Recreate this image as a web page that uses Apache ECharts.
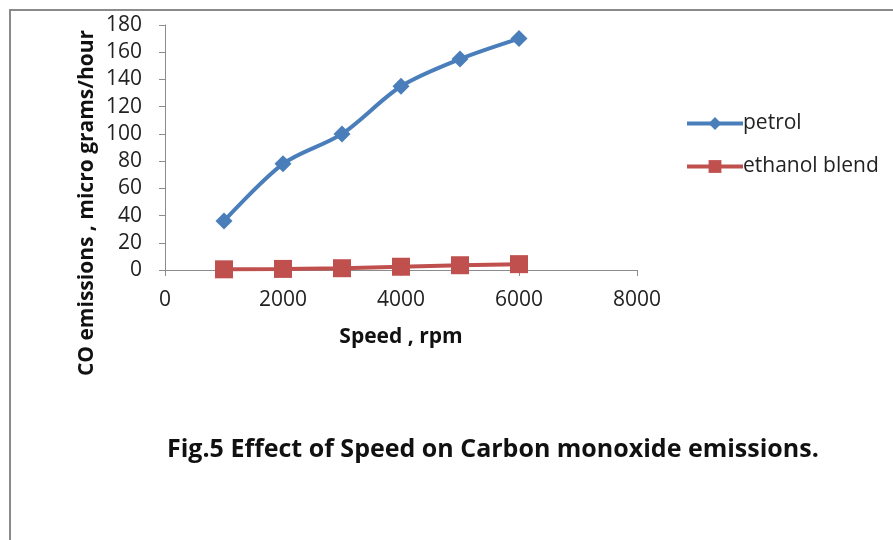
<!DOCTYPE html>
<html>
<head>
<meta charset="utf-8">
<script src="https://cdn.jsdelivr.net/npm/echarts@6/dist/echarts.min.js"></script>
<style>
  html, body { margin: 0; padding: 0; background: #fff; }
  #chart { width: 893px; height: 540px; }
</style>
</head>
<body>
<div id="chart"></div>
<script>
// data
const speed = [1000, 2000, 3000, 4000, 5000, 6000];
const petrol = [36, 78, 100, 135, 155, 170];
const ethanolBlend = [0.5, 0.8, 1.3, 2.4, 3.5, 4.3];
const seriesNames = ["petrol", "ethanol blend"];
const yTitle = "CO emissions , micro grams/hour";

const font = "'Open Sans', sans-serif";
const axisGrey = "#8c8c8c";

const myChart = echarts.init(document.getElementById("chart"));

const option = {
  backgroundColor: "#fff",
  animation: false,
  title: {
    text: "Fig.5 Effect of Speed on Carbon monoxide emissions.",
    left: 162,
    top: 432,
    textStyle: { fontFamily: font, fontSize: 25, fontWeight: "bold", color: "#111" },
  },
  graphic: [
    {
      type: "rect",
      shape: { x: 10, y: 10, width: 1200, height: 1200 },
      style: { fill: "none", stroke: "#8a8a8a", lineWidth: 2 },
      silent: true,
    },
    {
      // y axis title sits lower than the axis middle in the original
      type: "text",
      x: 87,
      y: 203,
      rotation: Math.PI / 2,
      silent: true,
      style: {
        text: yTitle,
        fontFamily: font,
        fontSize: 21,
        fontWeight: "bold",
        fill: "#111",
        align: "center",
        verticalAlign: "middle",
      },
    },
  ],
  legend: {
    orient: "vertical",
    left: 680,
    top: 108,
    itemWidth: 56,
    itemHeight: 16,
    itemGap: 22,
    data: seriesNames,
    lineStyle: { width: 4 },
    textStyle: { fontFamily: font, fontSize: 21, color: "#222", padding: [0, 0, 0, -5] },
  },
  grid: { left: 165, right: 256, top: 25, bottom: 270, outerBoundsMode: "none", containLabel: false },
  xAxis: {
    type: "value",
    min: 0,
    max: 8000,
    interval: 2000,
    name: "Speed , rpm",
    nameLocation: "middle",
    nameGap: 57,
    nameTextStyle: { fontFamily: font, fontSize: 21, fontWeight: "bold", color: "#111" },
    axisLine: { show: true, lineStyle: { color: axisGrey, width: 1 } },
    axisTick: { show: true, length: 6, lineStyle: { color: axisGrey } },
    axisLabel: {
      fontFamily: font, fontSize: 21, color: "#222", margin: 20,
      formatter: (v) => String(v),
    },
    splitLine: { show: false },
  },
  yAxis: {
    type: "value",
    min: 0,
    max: 180,
    interval: 20,
    axisLine: { show: true, lineStyle: { color: axisGrey, width: 1 } },
    axisTick: { show: true, length: 6, lineStyle: { color: axisGrey } },
    axisLabel: { fontFamily: font, fontSize: 21, color: "#222", margin: 23 },
    splitLine: { show: false },
  },
  series: [
    {
      name: seriesNames[0],
      type: "line",
      smooth: 0.3,
      data: speed.map((s, i) => [s, petrol[i]]),
      symbol: "diamond",
      symbolSize: 17,
      lineStyle: { color: "#4a7ebb", width: 4 },
      itemStyle: { color: "#4a7ebb" },
    },
    {
      name: seriesNames[1],
      type: "line",
      data: speed.map((s, i) => [s, ethanolBlend[i]]),
      symbol: "rect",
      symbolSize: 18,
      lineStyle: { color: "#c0504d", width: 4 },
      itemStyle: { color: "#c0504d" },
    },
  ],
};
myChart.setOption(option);
</script>
</body>
</html>
